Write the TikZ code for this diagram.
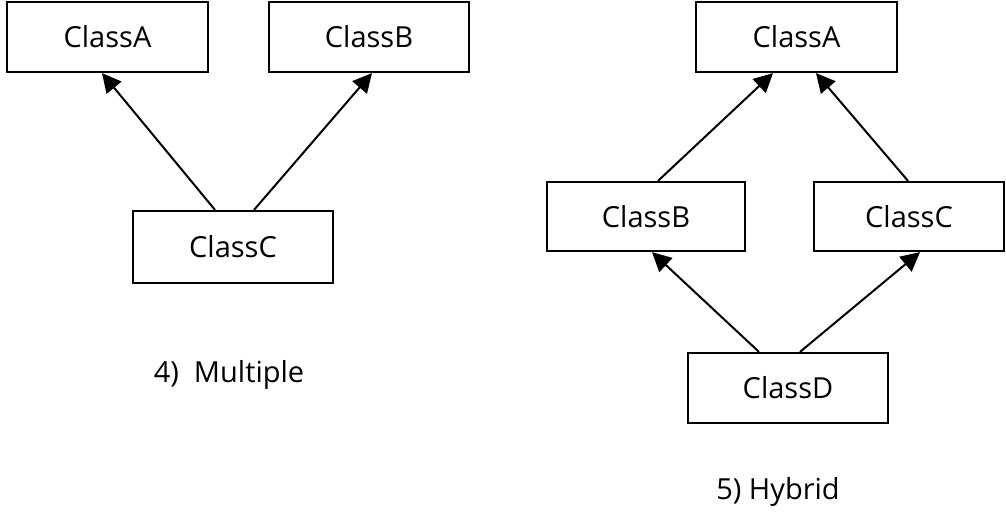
\documentclass[tikz,border=0pt]{standalone}
\usepackage{fontspec}
\setmainfont{Open Sans}
\usetikzlibrary{arrows.meta}
\begin{document}
\begin{tikzpicture}[x=1pt,y=-1pt,
  cls/.style={draw=black, line width=2.2pt, rectangle, inner sep=0pt, font=\fontsize{29}{32}\selectfont, text=black},
  inh/.style={line width=2pt, -{Triangle[length=19pt,width=19pt]}},
  captext/.style={font=\fontsize{29}{32}\selectfont, text=black}]
\useasboundingbox (0,0) rectangle (1006,515);
% Multiple
\node[cls, minimum width=201pt, minimum height=70pt] (ma) at (107.5,37) {ClassA};
\node[cls, minimum width=200pt, minimum height=70pt] (mb) at (369,37) {ClassB};
\node[cls, minimum width=200pt, minimum height=72pt] (mc) at (233,247) {ClassC};
\draw[inh] ([xshift=-18pt]mc.north) -- ([xshift=-5.5pt]ma.south);
\draw[inh] ([xshift=21pt]mc.north) -- ([xshift=3pt]mb.south);
\node[captext] (lm) at (229,375) {4)\ \ Multiple};
% Hybrid
\node[cls, minimum width=201pt, minimum height=70pt] (ha) at (796.5,37) {ClassA};
\node[cls, minimum width=198pt, minimum height=69pt] (hb) at (646,216.5) {ClassB};
\node[cls, minimum width=190pt, minimum height=69pt] (hc) at (909,216.5) {ClassC};
\node[cls, minimum width=200pt, minimum height=70pt] (hd) at (788,388) {ClassD};
\draw[inh] ([xshift=12pt]hb.north) -- ([xshift=-23.5pt]ha.south);
\draw[inh] ([xshift=-1pt]hc.north) -- ([xshift=19.5pt]ha.south);
\draw[inh] ([xshift=-29pt]hd.north) -- ([xshift=6pt]hb.south);
\draw[inh] ([xshift=12pt]hd.north) -- ([xshift=11pt]hc.south);
\node[captext] (lh) at (778,492) {5) Hybrid};
\end{tikzpicture}
\end{document}
